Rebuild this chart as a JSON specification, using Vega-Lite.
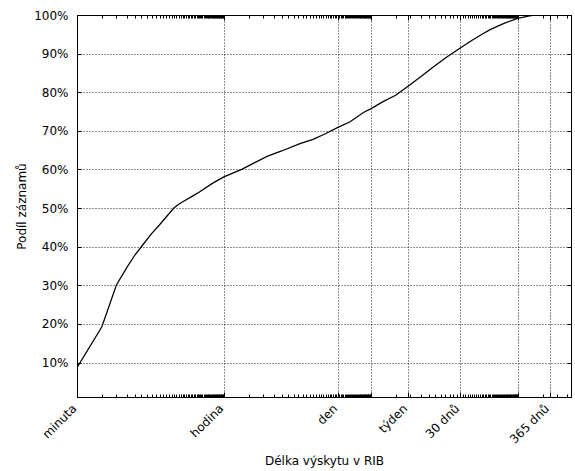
{
  "$schema": "https://vega.github.io/schema/vega-lite/v6.json",
  "width": 494,
  "height": 382,
  "autosize": "none",
  "padding": {"left": 77, "top": 15, "right": 4, "bottom": 74},
  "background": "white",
  "config": {
    "font": "DejaVu Sans",
    "view": {"stroke": "black", "strokeWidth": 1},
    "axis": {
      "domainColor": "black",
      "tickColor": "black",
      "labelColor": "black",
      "titleColor": "black",
      "labelFont": "DejaVu Sans",
      "titleFont": "DejaVu Sans",
      "labelFontSize": 12,
      "titleFontSize": 12,
      "titleFontWeight": "normal",
      "gridColor": "#222",
      "gridDash": [1, 2],
      "gridWidth": 1,
      "gridOpacity": 1
    }
  },
  "data": {
    "values": [
      {"minutes": 1, "share": 0.087},
      {"minutes": 2, "share": 0.193},
      {"minutes": 3, "share": 0.301},
      {"minutes": 4, "share": 0.346},
      {"minutes": 5, "share": 0.378},
      {"minutes": 6, "share": 0.400},
      {"minutes": 8, "share": 0.434},
      {"minutes": 10, "share": 0.457},
      {"minutes": 12, "share": 0.477},
      {"minutes": 15, "share": 0.501},
      {"minutes": 17, "share": 0.510},
      {"minutes": 20, "share": 0.519},
      {"minutes": 25, "share": 0.531},
      {"minutes": 30, "share": 0.541},
      {"minutes": 45, "share": 0.566},
      {"minutes": 60, "share": 0.581},
      {"minutes": 100, "share": 0.601},
      {"minutes": 200, "share": 0.634},
      {"minutes": 300, "share": 0.648},
      {"minutes": 500, "share": 0.667},
      {"minutes": 720, "share": 0.678},
      {"minutes": 1000, "share": 0.692},
      {"minutes": 1440, "share": 0.709},
      {"minutes": 2000, "share": 0.723},
      {"minutes": 3000, "share": 0.749},
      {"minutes": 3600, "share": 0.757},
      {"minutes": 5000, "share": 0.775},
      {"minutes": 7200, "share": 0.792},
      {"minutes": 10080, "share": 0.815},
      {"minutes": 15000, "share": 0.843},
      {"minutes": 20160, "share": 0.864},
      {"minutes": 30000, "share": 0.891},
      {"minutes": 43200, "share": 0.914},
      {"minutes": 60000, "share": 0.934},
      {"minutes": 80000, "share": 0.950},
      {"minutes": 100000, "share": 0.962},
      {"minutes": 150000, "share": 0.979},
      {"minutes": 216000, "share": 0.991},
      {"minutes": 300000, "share": 0.998},
      {"minutes": 370000, "share": 1.0},
      {"minutes": 955000, "share": 1.0}
    ]
  },
  "layer": [
    {
      "mark": {"type": "line", "color": "black", "strokeWidth": 1.25, "clip": true},
      "encoding": {
        "x": {
          "field": "minutes",
          "type": "quantitative",
          "scale": {"type": "log", "domain": [1, 955000], "nice": false},
          "axis": {
            "orient": "bottom",
            "title": "Délka výskytu v RIB",
            "titlePadding": 10,
            "values": [1,2,3,4,5,6,7,8,9,10,11,12,13,14,15,16,17,18,19,20,21,22,23,24,25,26,27,28,29,30,31,32,33,34,35,36,37,38,39,40,41,42,43,44,45,46,47,48,49,50,51,52,53,54,55,56,57,58,59,60,120,180,240,300,360,420,480,540,600,660,720,780,840,900,960,1020,1080,1140,1200,1260,1320,1380,1440,1500,1560,1620,1680,1740,1800,1860,1920,1980,2040,2100,2160,2220,2280,2340,2400,2460,2520,2580,2640,2700,2760,2820,2880,2940,3000,3060,3120,3180,3240,3300,3360,3420,3480,3540,3600,7200,10080,10800,14400,18000,21600,25200,28800,32400,36000,39600,43200,46800,50400,54000,57600,61200,64800,68400,72000,75600,79200,82800,86400,90000,93600,97200,100800,104400,108000,111600,115200,118800,122400,126000,129600,133200,136800,140400,144000,147600,151200,154800,158400,162000,165600,169200,172800,176400,180000,183600,187200,190800,194400,198000,201600,205200,208800,212400,216000,432000,525600,648000,864000],
            "labelExpr": "datum.value == 1 ? 'minuta' : datum.value == 60 ? 'hodina' : datum.value == 1440 ? 'den' : datum.value == 10080 ? 'týden' : datum.value == 43200 ? '30 dnů' : datum.value == 525600 ? '365 dnů' : ''",
            "labelAngle": -45,
            "labelAlign": "right",
            "labelBaseline": "middle",
            "labelPadding": 14,
            "labelOffset": -3,
            "labelOverlap": false,
            "labelBound": false,
            "labelFlush": false,
            "tickSize": {"condition": {"test": "indexof([1,60,1440,3600,10080,43200,216000,525600], datum.value) >= 0", "value": -5}, "value": -3},
            "grid": true,
            "gridOpacity": {"condition": {"test": "indexof([60,1440,3600,10080,43200,216000,525600], datum.value) >= 0", "value": 1}, "value": 0}
          }
        },
        "y": {
          "field": "share",
          "type": "quantitative",
          "scale": {"domain": [0.011, 1], "nice": false, "zero": false},
          "axis": {
            "orient": "left",
            "title": "Podíl záznamů",
            "titlePadding": 5,
            "values": [0.1, 0.2, 0.3, 0.4, 0.5, 0.6, 0.7, 0.8, 0.9, 1.0],
            "format": ".0%",
            "tickSize": -4,
            "labelPadding": 13,
            "grid": true
          }
        }
      }
    },
    {
      "mark": {"type": "line", "opacity": 0},
      "encoding": {
        "x": {
          "field": "minutes",
          "type": "quantitative",
          "scale": {"type": "log", "domain": [1, 955000], "nice": false},
          "axis": {
            "orient": "top",
            "title": null,
            "labels": false,
            "grid": false,
            "values": [1,2,3,4,5,6,7,8,9,10,11,12,13,14,15,16,17,18,19,20,21,22,23,24,25,26,27,28,29,30,31,32,33,34,35,36,37,38,39,40,41,42,43,44,45,46,47,48,49,50,51,52,53,54,55,56,57,58,59,60,120,180,240,300,360,420,480,540,600,660,720,780,840,900,960,1020,1080,1140,1200,1260,1320,1380,1440,1500,1560,1620,1680,1740,1800,1860,1920,1980,2040,2100,2160,2220,2280,2340,2400,2460,2520,2580,2640,2700,2760,2820,2880,2940,3000,3060,3120,3180,3240,3300,3360,3420,3480,3540,3600,7200,10080,10800,14400,18000,21600,25200,28800,32400,36000,39600,43200,46800,50400,54000,57600,61200,64800,68400,72000,75600,79200,82800,86400,90000,93600,97200,100800,104400,108000,111600,115200,118800,122400,126000,129600,133200,136800,140400,144000,147600,151200,154800,158400,162000,165600,169200,172800,176400,180000,183600,187200,190800,194400,198000,201600,205200,208800,212400,216000,432000,525600,648000,864000],
            "tickSize": {"condition": {"test": "indexof([1,60,1440,3600,10080,43200,216000,525600], datum.value) >= 0", "value": -5}, "value": -3}
          }
        },
        "y": {
          "field": "share",
          "type": "quantitative",
          "scale": {"domain": [0.011, 1], "nice": false, "zero": false},
          "axis": {
            "orient": "right",
            "title": null,
            "labels": false,
            "grid": false,
            "values": [0.1, 0.2, 0.3, 0.4, 0.5, 0.6, 0.7, 0.8, 0.9, 1.0],
            "tickSize": -4
          }
        }
      }
    }
  ],
  "resolve": {"axis": {"x": "independent", "y": "independent"}}
}
